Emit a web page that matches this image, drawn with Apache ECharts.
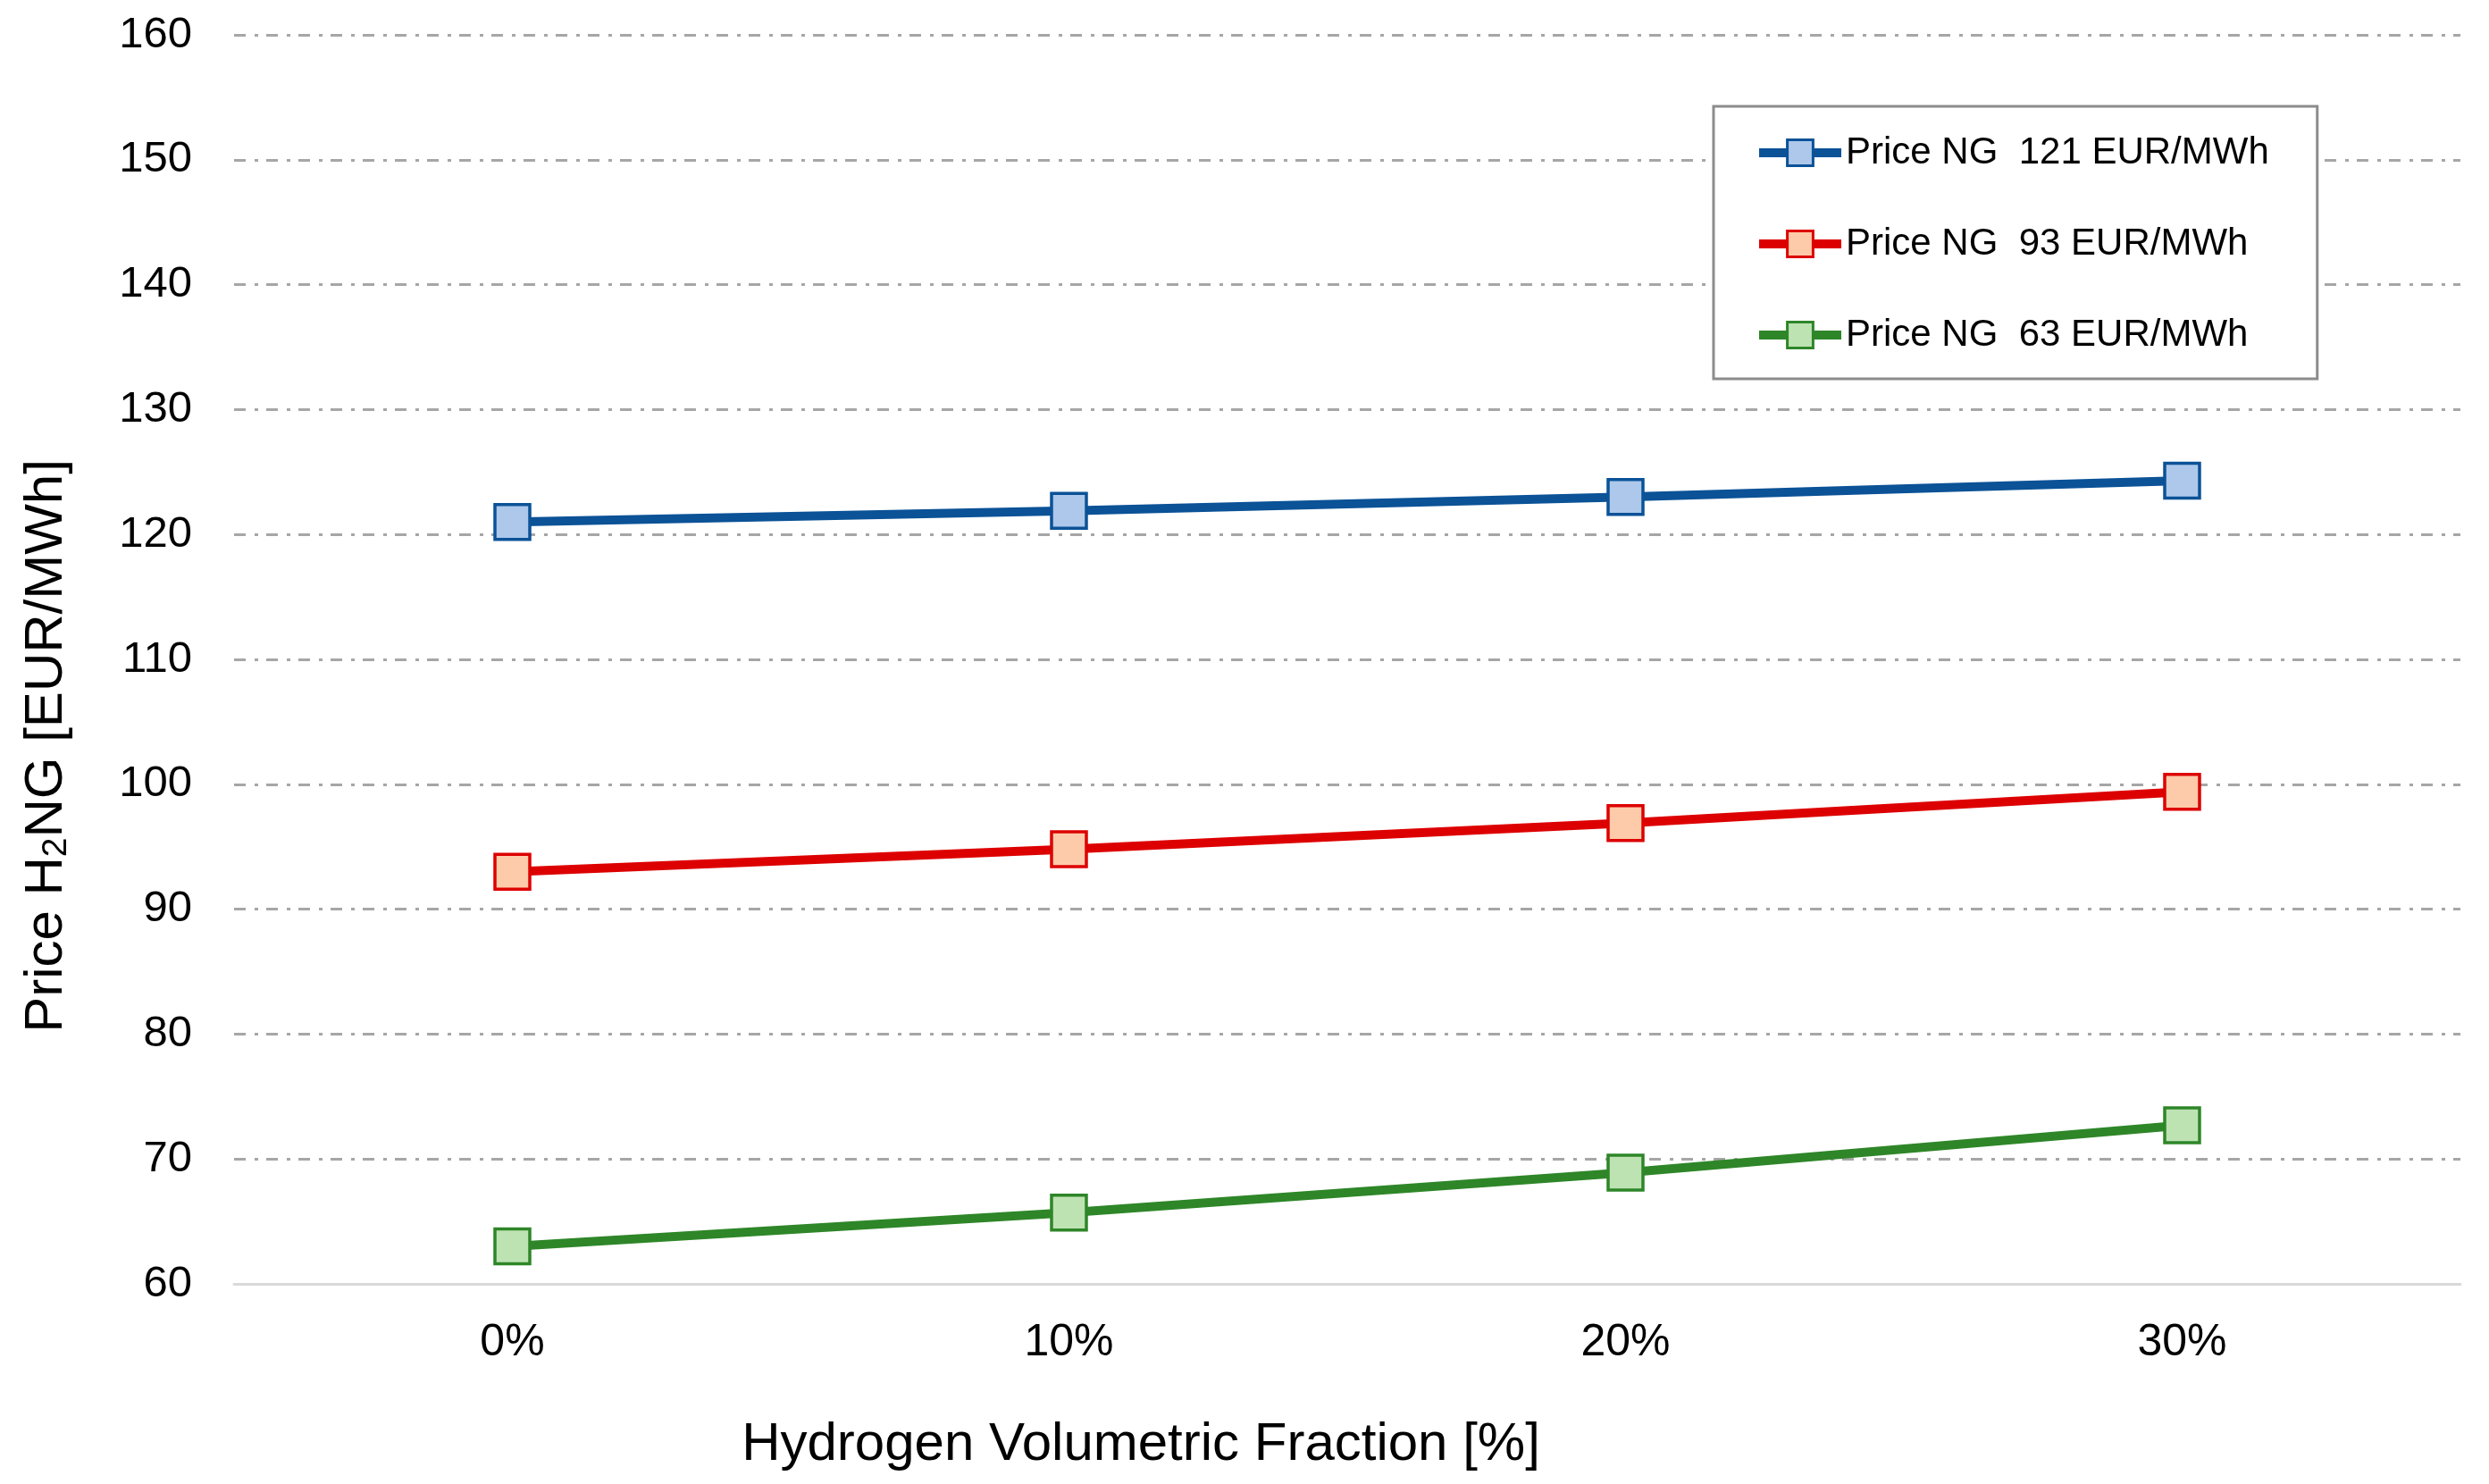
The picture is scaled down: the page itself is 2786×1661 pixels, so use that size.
<!DOCTYPE html>
<html>
<head>
<meta charset="utf-8">
<script src="https://cdn.jsdelivr.net/npm/echarts@6/dist/echarts.min.js"></script>
<style>
html,body{margin:0;padding:0;background:#fff;}
#chart{width:2786px;height:1661px;}
</style>
</head>
<body>
<div id="chart"></div>
<script>
// ---- data ----
const categories = ['0%', '10%', '20%', '30%'];
const seriesNames = ['Price NG  121 EUR/MWh', 'Price NG  93 EUR/MWh', 'Price NG  63 EUR/MWh'];
const priceNG121 = [121.0, 121.9, 123.0, 124.3];
const priceNG93 = [93.0, 94.8, 96.9, 99.4];
const priceNG63 = [63.0, 65.7, 68.9, 72.7];
const yMin = 60, yMax = 160, yStep = 10;
const xTitle = 'Hydrogen Volumetric Fraction [%]';
const yTitle = 'Price H{sub|2}NG [EUR/MWh]';

const FONT = '"Liberation Sans", Arial, sans-serif';
const lineColors = ['#0b5297', '#dd0000', '#2e8628'];
const fillColors = ['#adc8ea', '#fdcbaa', '#bee3b3'];
const values = [priceNG121, priceNG93, priceNG63];

const chart = echarts.init(document.getElementById('chart'), null, {renderer: 'canvas'});

const series = values.map((v, i) => ({
  name: seriesNames[i],
  type: 'line',
  data: v,
  symbol: 'rect',
  symbolSize: 39,
  z: 3 - i + 2,
  lineStyle: {color: lineColors[i], width: 10},
  itemStyle: {color: fillColors[i], borderColor: lineColors[i], borderWidth: 3.5},
  emphasis: {disabled: true},
  animation: false
}));

chart.setOption({
  animation: false,
  backgroundColor: '#ffffff',
  textStyle: {fontFamily: FONT},
  grid: {left: 262, right: 32, top: 39, bottom: 224, containLabel: false},
  legend: {
    orient: 'vertical',
    left: 1918, top: 119,
    padding: [31, 54, 28, 46],
    itemGap: 60,
    itemWidth: 92,
    itemHeight: 36,
    borderColor: '#8c8c8c',
    borderWidth: 3,
    backgroundColor: '#ffffff',
    textStyle: {fontFamily: FONT, fontSize: 42, color: '#000'},
    lineStyle: {width: 10},
    itemStyle: {borderWidth: 3},
    data: seriesNames
  },
  xAxis: {
    type: 'category',
    data: categories,
    boundaryGap: true,
    axisTick: {show: false},
    axisLine: {lineStyle: {color: '#d9d9d9', width: 3}},
    axisLabel: {fontFamily: FONT, fontSize: 50, color: '#000', margin: 41},
    splitLine: {show: false}
  },
  yAxis: {
    type: 'value',
    min: yMin, max: yMax, interval: yStep,
    axisLine: {show: false},
    axisTick: {show: false},
    axisLabel: {fontFamily: FONT, fontSize: 49, color: '#000', margin: 47},
    splitLine: {
      show: true,
      showMinLine: false,
      lineStyle: {color: '#a6a6a6', width: 3, type: [13, 10, 4, 9]}
    }
  },
  graphic: [{
    type: 'text',
    x: 52, y: 835,
    rotation: Math.PI / 2,
    style: {
      text: yTitle,
      fontFamily: FONT,
      fontSize: 60,
      fill: '#000',
      align: 'center',
      verticalAlign: 'middle',
      rich: {
        sub: {fontFamily: FONT, fontSize: 39, fill: '#000', padding: [23, 0, 0, 0]}
      }
    }
  }, {
    type: 'text',
    x: 1277, y: 1617,
    style: {
      text: xTitle,
      fontFamily: FONT,
      fontSize: 60,
      fill: '#000',
      align: 'center',
      verticalAlign: 'middle'
    }
  }],
  series: series
});
</script>
</body>
</html>
